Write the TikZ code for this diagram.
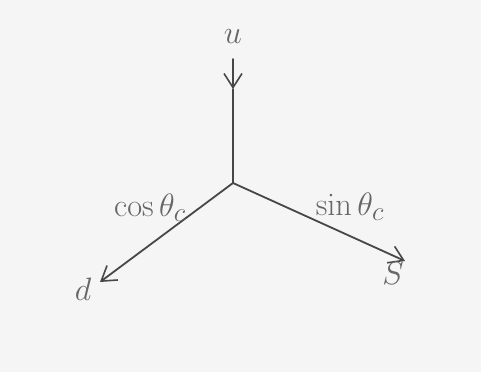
\documentclass[tikz,border=0pt]{standalone}
\usepackage{graphicx}
\usetikzlibrary{arrows.meta}
\newcommand{\biglab}[1]{\scalebox{1.3}{\fontsize{24.88}{28}\selectfont$#1$}}
\begin{document}
\begin{tikzpicture}[x=1pt,y=-1pt,
  line/.style={draw=black!72, line width=1.8pt, line cap=round},
  arr/.style={line, -{Straight Barb[length=14pt,width=18pt,line width=1.6pt]}},
  lab/.style={text=black!60, inner sep=0pt}]
\fill[black!4] (0,0) rectangle (481,372);
\useasboundingbox (0,0) rectangle (481,372);
\coordinate (O) at (233,183);
\coordinate (top) at (233,59);
\coordinate (mid) at (233,89);
\coordinate (dend) at (100,282);
\coordinate (send) at (405,261);
\draw[arr] (top) -- (mid);
\draw[line] (mid) -- (O);
\draw[arr] (O) -- (dend);
\draw[arr] (O) -- (send);
\node[lab] (u) at (233,37) {\biglab{u}};
\node[lab] (d) at (83,289) {\biglab{d}};
\node[lab] (s) at (393,273) {\biglab{S}};
\node[lab] (cos) at (150,208) {\biglab{\cos\theta_c}};
\node[lab] (sin) at (350,207) {\biglab{\sin\theta_c}};
\end{tikzpicture}
\end{document}
